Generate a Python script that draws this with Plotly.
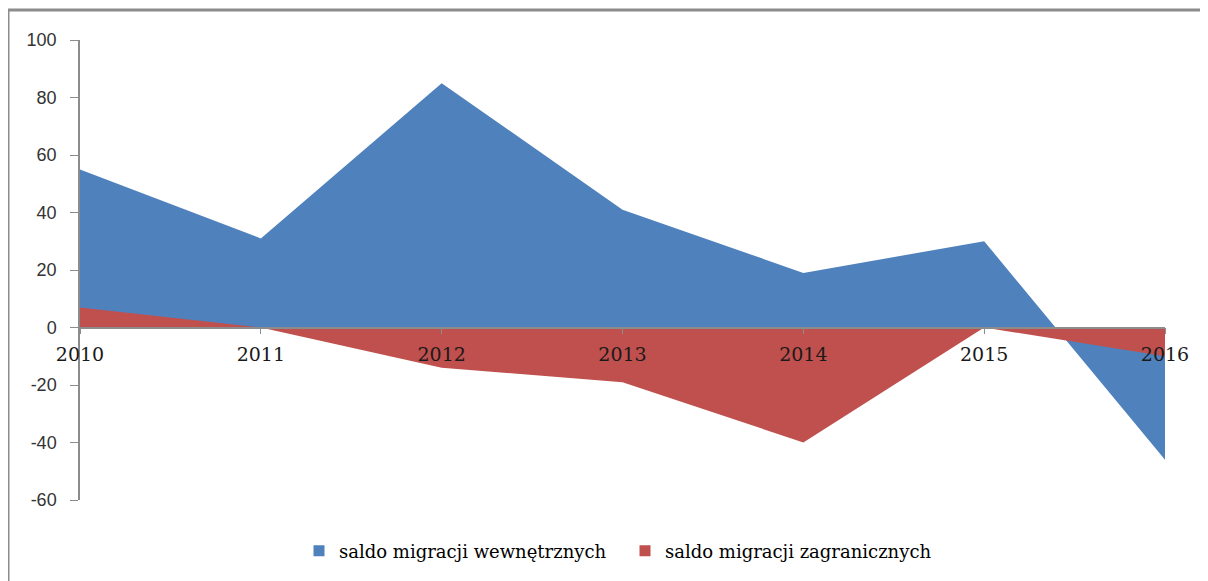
import plotly.graph_objects as go

years = [2010, 2011, 2012, 2013, 2014, 2015, 2016]
wewnetrzne = [55, 31, 85, 41, 19, 30, -46]
zagraniczne = [7, 0, -14, -19, -40, 0, -10]
y_ticks = [-60, -40, -20, 0, 20, 40, 60, 80, 100]
y_ticktext = ["-60", "-40", "-20", "0", "20", "40", "60", "80", "100"]
names = ["saldo migracji wewnętrznych", "saldo migracji zagranicznych"]
colors = ["#4F81BD", "#C0504D"]

fig = go.Figure()
for vals, name, col in zip([wewnetrzne, zagraniczne], names, colors):
    fig.add_trace(go.Scatter(
        x=years, y=vals, name=name, mode="lines",
        line=dict(width=0, color=col), fill="tozeroy", fillcolor=col,
        showlegend=False, hoverinfo="x+y+name"))
# legend entries with square markers
for name, col in zip(names, colors):
    fig.add_trace(go.Scatter(
        x=[None], y=[None], name=name, mode="markers",
        marker=dict(symbol="square", size=11, color=col),
        showlegend=True))

# page body has an 8px margin; figure sized to fit the window
W, H = 1200, 573
ml, mr, mt, mb = 72, 43, 32, 81
pw, ph = W - ml - mr, H - mt - mb

fig.update_layout(
    width=W, height=H,
    margin=dict(l=ml, r=mr, t=mt, b=mb),
    paper_bgcolor="white", plot_bgcolor="white",
    showlegend=True,
    legend=dict(orientation="h", x=(291 - ml) / pw, xanchor="left",
                y=(492 - 543) / ph, yanchor="middle",
                font=dict(family="DejaVu Serif", size=18, color="#000000"),
                itemwidth=30, entrywidth=281, entrywidthmode="pixels",
                traceorder="normal", tracegroupgap=0),
    xaxis=dict(range=[2010, 2016], tickmode="array", tickvals=years,
               ticktext=[str(y) for y in years],
               anchor="free", position=60 / 160,
               showline=True, linecolor="#8C8C8C", linewidth=1.5,
               ticks="outside", ticklen=6, tickcolor="#8C8C8C",
               ticklabelstandoff=4,
               showgrid=False, zeroline=False,
               tickfont=dict(family="DejaVu Serif", size=19, color="#1a1a1a")),
    yaxis=dict(range=[-60, 100], tickmode="array", tickvals=y_ticks,
               ticktext=y_ticktext,
               showline=True, linecolor="#8C8C8C", linewidth=1.5,
               ticks="outside", ticklen=8, tickcolor="#8C8C8C",
               ticklabelstandoff=10,
               showgrid=False, zeroline=False,
               tickfont=dict(family="Liberation Sans", size=18, color="#333333")),
    shapes=[
        dict(type="line", xref="paper", yref="paper",
             x0=(0 - ml) / pw, x1=(W + 5 - ml) / pw,
             y0=1 + (mt - 2) / ph, y1=1 + (mt - 2) / ph,
             line=dict(color="#8C8C8C", width=3)),
        dict(type="line", xref="paper", yref="paper",
             x0=(0 - ml) / pw, x1=(0 - ml) / pw,
             y0=1 + (mt - 2) / ph, y1=-(mb + 5) / ph,
             line=dict(color="#8C8C8C", width=3)),
    ],
)

fig.write_html("out.html")
